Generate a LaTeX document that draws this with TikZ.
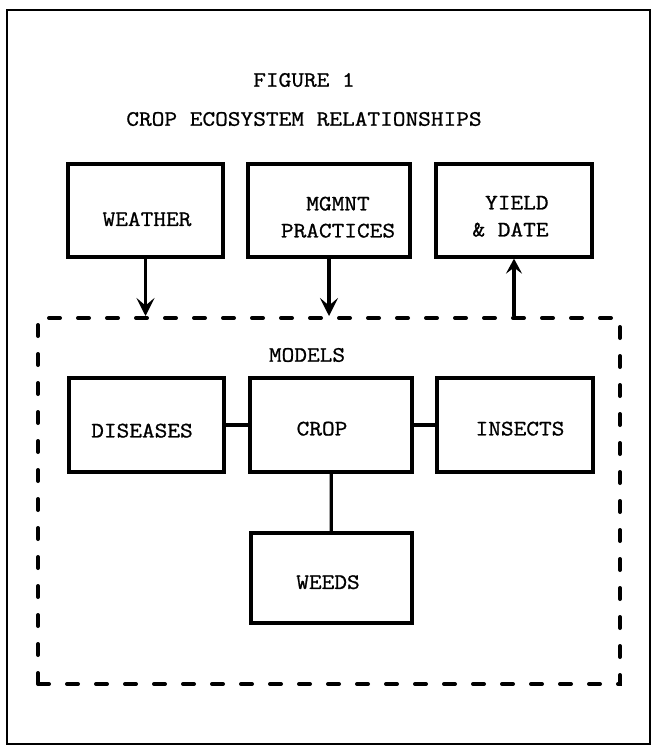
\documentclass[tikz,border=0pt]{standalone}
\usepackage{fontspec}
\newfontfamily\tw[FakeStretch=1.12,FakeBold=1]{Latin Modern Mono}
\usetikzlibrary{arrows.meta}
% text inside a box: [alignment]{x shift}{downward shift}{lines}
\newcommand\boxtext[4][c]{\raisebox{-#3}[\height][\depth]{\kern#2\relax\begin{tabular}{@{}#1@{}}#4\end{tabular}\kern-#2\relax}}
\begin{document}
\begin{tikzpicture}[x=1pt,y=-1pt,
  txt/.style={font=\tw\fontsize{22}{27}\selectfont, inner sep=0pt},
  blk/.style={txt, draw, line width=3.2pt, minimum width=#1, minimum height=93pt},
  arr/.style={line width=3.2pt, -{Stealth[length=18pt,width=18pt,inset=7.5pt]}},
  arrsmall/.style={line width=3.2pt, -{Stealth[length=15pt,width=16pt,inset=6pt]}},
  conn/.style={line width=3.2pt},
  dashbox/.style={draw, line width=4pt, line cap=round, dash pattern=on 11pt off 18pt,
    minimum width=582pt, minimum height=366pt, inner sep=0pt}]
\useasboundingbox (0,0) rectangle (653,747);
% outer frame
\draw[line width=2.5pt] (7,10) rectangle (650,744);
% titles
\node[txt] (fig) at (304,80) {FIGURE 1};
\node[txt] (caption) at (304,119) {CROP ECOSYSTEM RELATIONSHIPS};
% top row
\node[blk=155pt] (weather) at (145.5,210.5) {\boxtext{1.5pt}{10pt}{WEATHER}};
\node[blk=162pt] (mgmnt) at (329,210.5) {\boxtext{9pt}{8pt}{MGMNT\\PRACTICES}};
\node[blk=156pt] (yield) at (514,210.5) {\boxtext[r]{-3.5pt}{7pt}{YIELD\\\& DATE}};
% models
\node[dashbox] (models) at (329,501) {};
\node[txt] (modlabel) at (307,355) {MODELS};
\node[blk=155pt, minimum height=94pt] (diseases) at (146.5,425) {\boxtext{-4.5pt}{7pt}{DISEASES}};
\node[blk=162pt, minimum height=94pt] (crop) at (331,425) {\boxtext{-9pt}{5pt}{CROP}};
\node[blk=156pt, minimum height=94pt] (insects) at (515,425) {\boxtext{5pt}{5pt}{INSECTS}};
\node[blk=161pt, minimum height=90pt] (weeds) at (331.5,578) {\boxtext{-3.5pt}{5.5pt}{WEEDS}};
% connectors
\draw[arr] (weather.south) -- (weather.south |- models.north);
\draw[arr] (mgmnt.south) -- (mgmnt.south |- models.north);
\draw[arrsmall] (yield.south |- models.north) -- (yield.south);
\draw[conn] (diseases) -- (crop);
\draw[conn] (crop) -- (insects);
\draw[conn] (crop) -- (weeds);
\end{tikzpicture}
\end{document}
